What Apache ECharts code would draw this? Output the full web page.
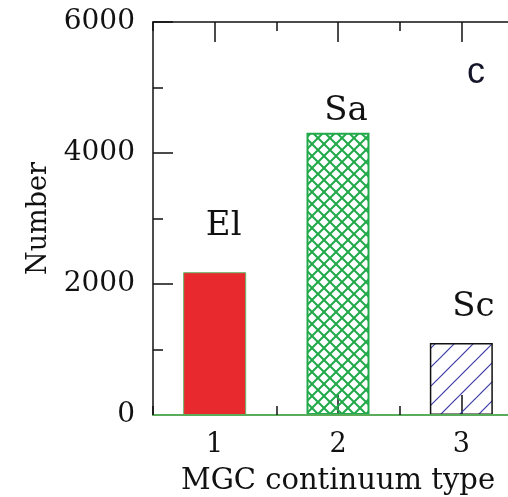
<!DOCTYPE html>
<html>
<head>
<meta charset="utf-8">
<script src="https://cdn.jsdelivr.net/npm/echarts@6/dist/echarts.min.js"></script>
<style>
  html, body { margin: 0; background: #fff; }
  #chart { width: 508px; height: 497px; }
</style>
</head>
<body>
<div id="chart"></div>
<script>
// MGC continuum type counts
const categories = ['1', '2', '3'];
const typeNames = ['El', 'Sa', 'Sc'];
const counts = [2180, 4310, 1100];
const panelTag = 'c';

const SERIF = 'DejaVu Serif';

// Build a repeating diagonal hatch tile (optionally cross-hatched)
function hatchTile(size, color, width, cross) {
  const c = document.createElement('canvas');
  c.width = c.height = size;
  const g = c.getContext('2d');
  g.strokeStyle = color;
  g.lineWidth = width;
  const line = (x0, y0, x1, y1) => { g.beginPath(); g.moveTo(x0, y0); g.lineTo(x1, y1); g.stroke(); };
  line(-1, size + 1, size + 1, -1);
  line(-2, 2, 2, -2);
  line(size - 2, size + 2, size + 2, size - 2);
  if (cross) {
    line(-1, -1, size + 1, size + 1);
    line(size - 2, -2, size + 2, 2);
    line(-2, size - 2, 2, size + 2);
  }
  return c;
}

const barStyles = [
  { color: '#e8292d', borderColor: '#6ab36a', borderWidth: 1 },
  { color: { image: hatchTile(12, '#22a94b', 2, true), repeat: 'repeat' }, borderColor: '#22a94b', borderWidth: 2 },
  { color: { image: hatchTile(19, '#3c3ca6', 1.2, false), repeat: 'repeat' }, borderColor: '#111', borderWidth: 1.5 }
];
const labelOffsets = [[9, 0], [8, 0], [12, 0]];
const labelDistances = [29, 5, 19];

const chart = echarts.init(document.getElementById('chart'));

const tickAxis = (position, length, centred, extra) => Object.assign({
  type: 'category',
  data: categories,
  position: position,
  boundaryGap: true,
  axisLine: { show: false },
  axisLabel: { show: false },
  axisTick: { show: true, inside: true, length: length, alignWithLabel: centred,
              lineStyle: { color: '#111', width: 1.5 } },
  splitLine: { show: false }
}, extra || {});

chart.setOption({
  animation: false,
  grid: { left: 153, top: 22, width: 370, height: 393, containLabel: false, outerBoundsMode: 'none' },
  xAxis: [
    tickAxis('bottom', 20, true, {
      name: 'MGC continuum type',
      nameLocation: 'middle',
      nameGap: 52,
      nameTextStyle: { fontFamily: SERIF, fontSize: 29, color: '#111' },
      axisLabel: { show: true, fontFamily: SERIF, fontSize: 27, color: '#111', margin: 16 }
    }),
    tickAxis('bottom', 9, false, {
      z: 10,
      axisLine: { show: true, lineStyle: { color: '#5aab5a', width: 2 } }
    }),
    tickAxis('top', 20, true, {
      axisLine: { show: true, lineStyle: { color: '#111', width: 1.5 } }
    }),
    tickAxis('top', 9, false)
  ],
  yAxis: {
    type: 'value',
    min: 0,
    max: 6000,
    interval: 2000,
    name: 'Number',
    nameLocation: 'middle',
    nameGap: 100,
    nameTextStyle: { fontFamily: SERIF, fontSize: 27, color: '#111' },
    axisLine: { show: true, lineStyle: { color: '#111', width: 1.5 } },
    axisTick: { show: true, inside: true, length: 20, lineStyle: { color: '#111', width: 1.5 } },
    minorTick: { show: true, splitNumber: 2, length: 10, lineStyle: { color: '#111', width: 1.5 } },
    axisLabel: { fontFamily: SERIF, fontSize: 28, color: '#111', margin: 18, formatter: v => String(v) },
    splitLine: { show: false }
  },
  series: [{
    type: 'bar',
    xAxisIndex: 0,
    barWidth: 63,
    data: counts.map((v, i) => ({
      value: v,
      itemStyle: barStyles[i],
      label: {
        show: true,
        position: 'top',
        distance: labelDistances[i],
        offset: labelOffsets[i],
        formatter: typeNames[i],
        fontFamily: SERIF,
        fontSize: 34,
        color: '#111'
      }
    }))
  }],
  graphic: [{
    type: 'text',
    left: 467,
    top: 55,
    style: { text: panelTag, font: '36px "Liberation Sans"', fill: '#15152a' }
  }]
});
</script>
</body>
</html>
